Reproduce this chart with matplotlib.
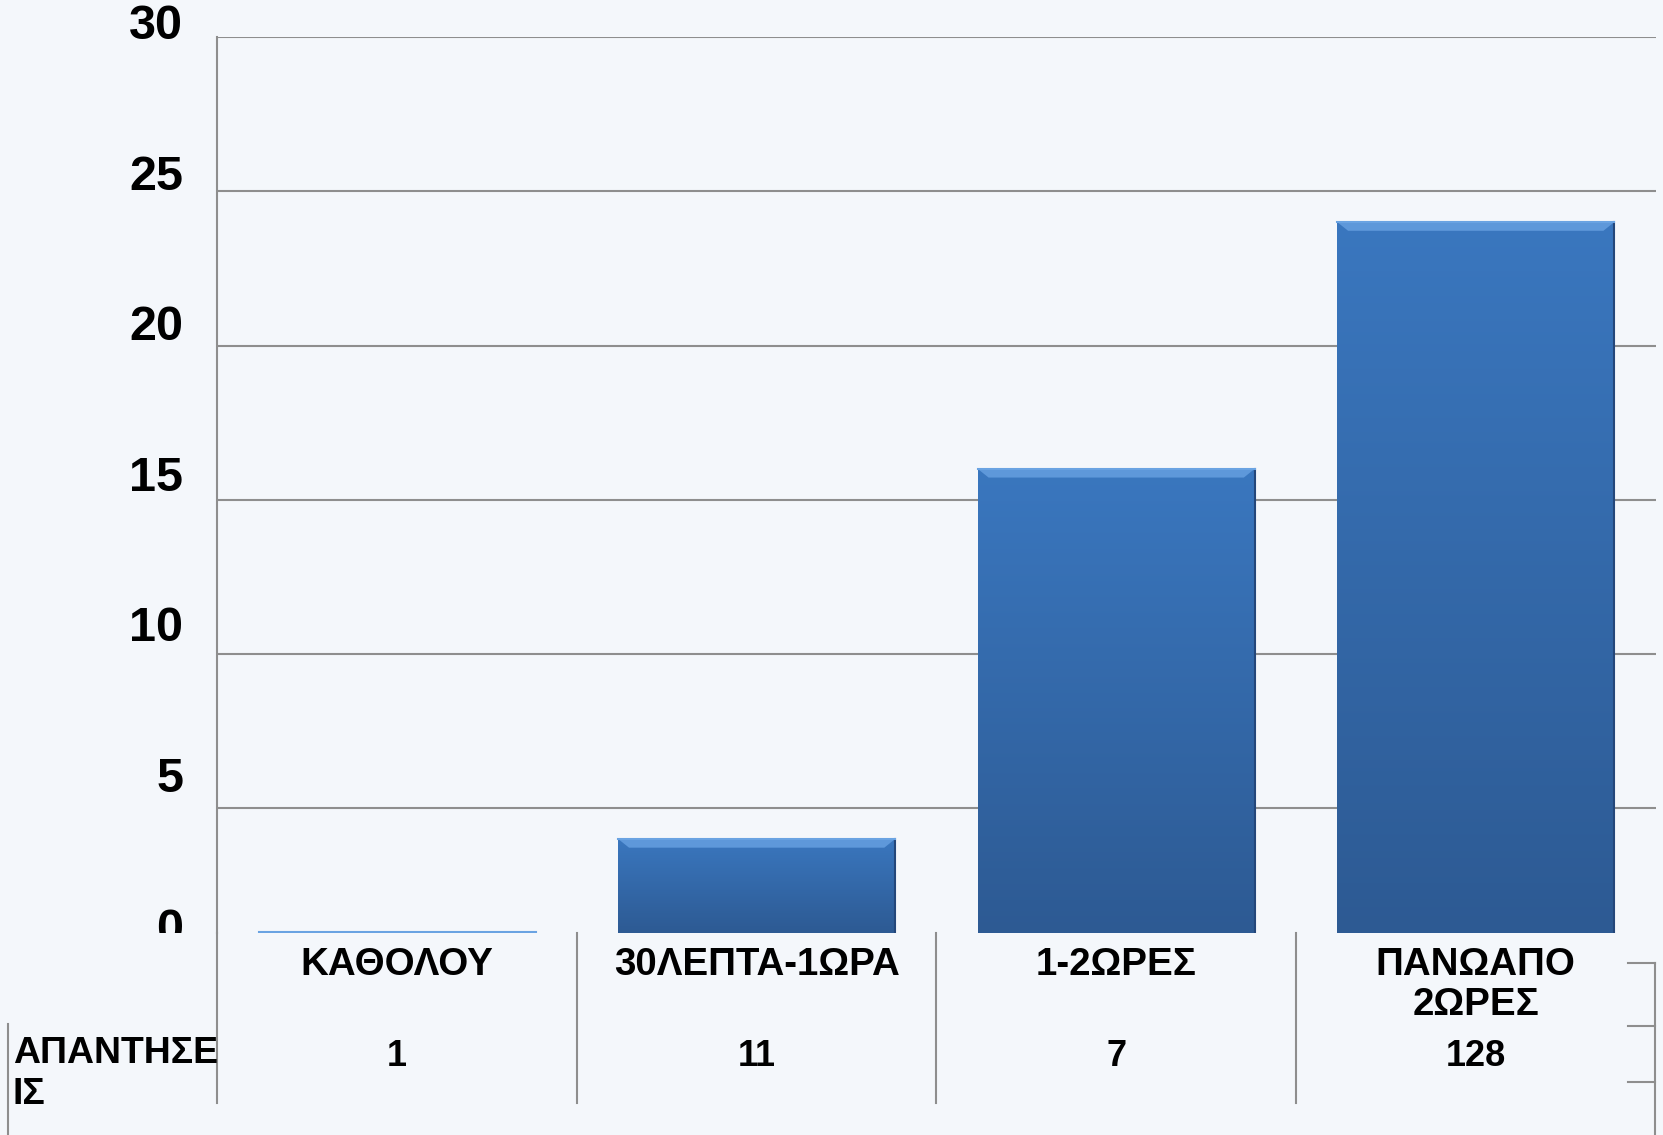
import matplotlib
matplotlib.use("Agg")
import matplotlib.pyplot as plt
import matplotlib.transforms as mtransforms
import numpy as np
from matplotlib.colors import LinearSegmentedColormap
from matplotlib.patches import Polygon

# data
categories = ["ΚΑΘΟΛΟΥ", "30ΛΕΠΤΑ-1ΩΡΑ", "1-2ΩΡΕΣ", "ΠΑΝΩΑΠΟ\n2ΩΡΕΣ"]
bar_values = [1, 4, 16, 24]
table_values = ["1", "11", "7", "128"]
row_label = "ΑΠΑΝΤΗΣΕ\nΙΣ"
y_ticks = [0, 5, 10, 15, 20, 25, 30]

bg = "#f4f7fb"
grid_col = "#8e8e8e"
plt.rcParams["font.family"] = ["Liberation Sans", "DejaVu Sans"]

fig = plt.figure(figsize=(16.63, 11.35), dpi=100, facecolor=bg)
ax = fig.add_axes([0.1307, 0.1776, 0.8648, 0.7897])
ax.set_facecolor(bg)

x = np.arange(len(categories))
width = 0.77
ymin = 0.94
ax.set_xlim(-0.5, len(categories) - 0.5)
ax.set_ylim(ymin, 30)

# gridlines
ax.set_yticks([t for t in y_ticks if t > 0])
ax.set_yticklabels([])
ax.yaxis.grid(True, color=grid_col, linewidth=1.5)
ax.set_axisbelow(True)
for s in ["right", "bottom", "top"]:
    ax.spines[s].set_visible(False)
ax.spines["left"].set_color(grid_col)
ax.spines["left"].set_linewidth(1.5)
ax.set_xticks([])
ax.tick_params(axis="y", length=0)

# tick labels sit a bit above their gridlines (more so lower down)
label_clip = mtransforms.TransformedBbox(
    mtransforms.Bbox([[0, 0.1776], [0.13, 1]]), fig.transFigure)
for t in y_ticks:
    off_px = (10 + (30 - t) * 0.68) * 1.0606
    tr = ax.get_yaxis_transform() + mtransforms.ScaledTranslation(
        -24.5 / 72, off_px * 0.72 / 72, fig.dpi_scale_trans)
    lab = ax.text(0, t, str(t), transform=tr, ha="right", va="center",
                  fontsize=35, fontweight="bold")
    lab.set_clip_on(True)
    lab.set_clip_box(label_clip)

# bars with a vertical gradient and a light top bevel
cmap = LinearSegmentedColormap.from_list("bar", ["#2d5a93", "#3a77bf"])
grad = np.linspace(0, 1, 256).reshape(-1, 1)
bars = ax.bar(x, bar_values, width=width, color="none", edgecolor="none", zorder=2)
for b, v in zip(bars, bar_values):
    x0 = b.get_x()
    x1 = x0 + b.get_width()
    ax.imshow(grad, cmap=cmap, aspect="auto", origin="lower",
              extent=[x0, x1, ymin, v], zorder=2)
    dx, dy = 0.03, 0.28
    if v - dy > ymin:
        top = Polygon([[x0, v], [x1, v], [x1 - dx, v - dy], [x0 + dx, v - dy]],
                      closed=True, facecolor="#5e98da", edgecolor="none", zorder=3)
        ax.add_patch(top)
        ax.plot([x1, x1], [ymin, v], color="#24477a", linewidth=1.5, zorder=3)
    ax.plot([x0, x1], [v, v], color="#6aa3e2", linewidth=1.5, zorder=4)

# table under the chart
blend = mtransforms.blended_transform_factory(ax.transData, fig.transFigure)
for xv in np.arange(-0.5, len(categories) - 0.5):
    fig.add_artist(plt.Line2D([xv, xv], [0.1776, 0.028], transform=blend,
                              color=grid_col, linewidth=1.5))
fig.add_artist(plt.Line2D([0.0051, 0.0051], [0.098, 0.0], color=grid_col, linewidth=1.5))
fig.add_artist(plt.Line2D([0.9949, 0.9949], [0.1514, 0.0], color=grid_col, linewidth=1.5))
for yy in [0.1514, 0.0963, 0.0467]:
    fig.add_artist(plt.Line2D([0.979, 0.9949], [yy, yy], color=grid_col, linewidth=1.5))

for xi, cat, val in zip(x, categories, table_values):
    fig.text(xi, 0.166, cat, transform=blend, ha="center", va="top",
             fontsize=27.7, fontweight="bold", linespacing=1.15)
    fig.text(xi, 0.069, val, transform=blend, ha="center", va="center",
             fontsize=26, fontweight="bold")

fig.text(0.0077, 0.087, row_label, ha="left", va="top",
         fontsize=26.9, fontweight="bold", linespacing=1.23)

fig.savefig("out.png", dpi=100, facecolor=bg)
